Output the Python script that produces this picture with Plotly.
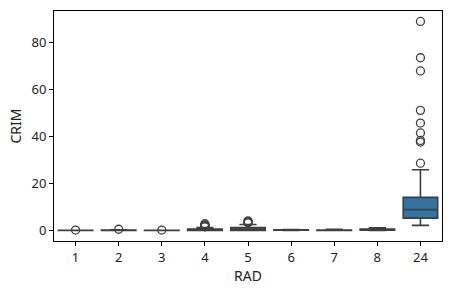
import plotly.graph_objects as go

categories = ["1", "2", "3", "4", "5", "6", "7", "8", "24"]
q1 = [0.015, 0.05, 0.04, 0.06, 0.08, 0.10, 0.08, 0.12, 5.3]
median = [0.035, 0.10, 0.06, 0.19, 0.30, 0.20, 0.15, 0.30, 8.9]
q3 = [0.06, 0.17, 0.09, 0.62, 1.30, 0.30, 0.25, 0.60, 14.1]
lower = [0.006, 0.01, 0.01, 0.01, 0.03, 0.05, 0.03, 0.03, 2.2]
upper = [0.10, 0.29, 0.14, 1.23, 2.60, 0.40, 0.50, 1.20, 25.9]
outliers = {
    "1": [0.2],
    "2": [0.55],
    "3": [0.21],
    "4": [1.62, 2.0, 2.15, 2.45, 2.92],
    "5": [3.3, 3.5, 3.7, 4.1],
    "24": [28.66, 37.66, 38.35, 41.53, 45.75, 51.14, 67.92, 73.53, 88.98],
}

line_col = "#3f3f3f"
fill_col = "#3274a1"
font_fam = "Noto Sans, Open Sans, DejaVu Sans, sans-serif"

fig = go.Figure()
fig.add_trace(go.Box(
    x=categories, q1=q1, median=median, q3=q3,
    lowerfence=lower, upperfence=upper,
    fillcolor=fill_col, line=dict(color=line_col, width=1.6),
    width=0.8, whiskerwidth=0.5, boxpoints=False, showlegend=False,
    hoverinfo="skip",
))

ox, oy = [], []
for c in categories:
    for v in outliers.get(c, []):
        ox.append(c)
        oy.append(v)
fig.add_trace(go.Scatter(
    x=ox, y=oy, mode="markers", showlegend=False,
    marker=dict(symbol="circle-open", size=8, color=line_col,
                line=dict(width=1.3, color=line_col)),
))

axis_common = dict(
    showline=True, mirror=True, linecolor="black", linewidth=1,
    ticks="outside", ticklen=4, tickwidth=1, tickcolor="black",
    showgrid=False, zeroline=False,
    tickfont=dict(size=13, color="#222", family=font_fam),
)
fig.update_xaxes(
    type="category", categoryorder="array", categoryarray=categories,
    range=[-0.5, 8.5],
    title=dict(text="RAD", font=dict(size=14, color="#222", family=font_fam), standoff=6),
    **axis_common,
)
fig.update_yaxes(
    range=[-4.45, 93.43], tickvals=[0, 20, 40, 60, 80],
    title=dict(text="CRIM", font=dict(size=14, color="#222", family=font_fam), standoff=6),
    **axis_common,
)
fig.update_layout(
    width=451, height=292,
    margin=dict(l=54, r=9, t=11, b=51),
    paper_bgcolor="white", plot_bgcolor="white",
    font=dict(family=font_fam),
)
fig.write_html("out.html")
